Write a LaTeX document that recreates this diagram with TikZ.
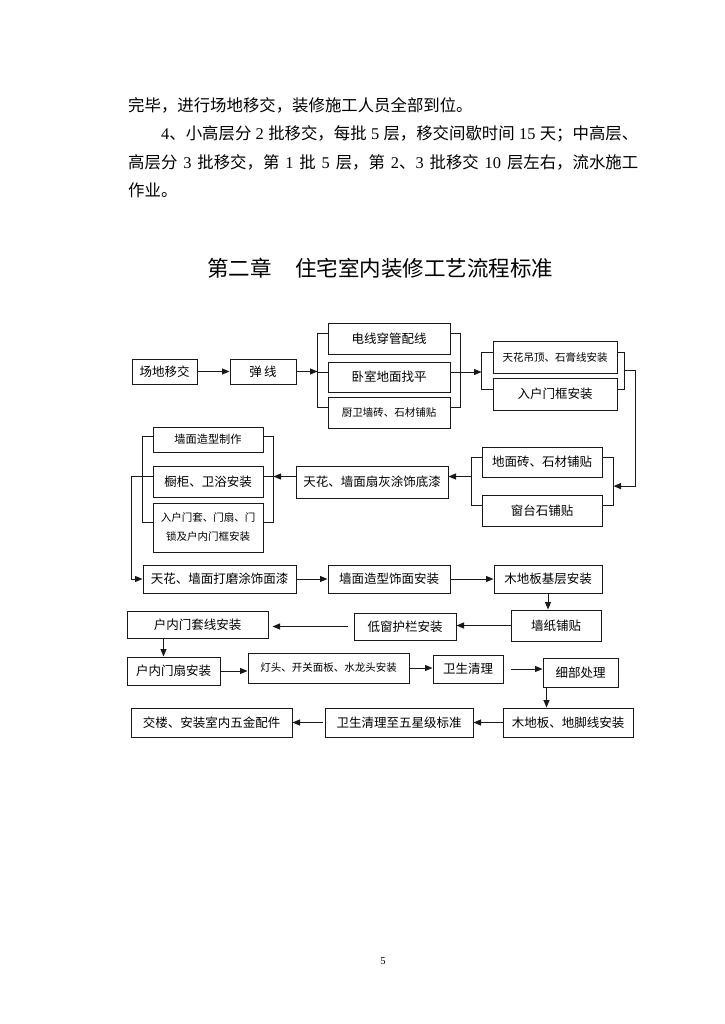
\documentclass[tikz,border=0pt]{standalone}
\usepackage{fontspec}
\setmainfont{Liberation Serif}
\newfontfamily\cjk{Noto Sans CJK SC}
\usetikzlibrary{arrows.meta, calc}
\definecolor{linegray}{RGB}{25,25,25}
\XeTeXlinebreaklocale "zh"
\XeTeXlinebreakskip=0pt plus 1pt
\newcommand{\dg}[1]{{\rmfamily #1}}
\begin{document}
\begin{tikzpicture}[x=1pt, y=-1pt,
    proc/.style={draw=linegray, line width=1pt, inner sep=0pt,
                 font=\cjk\fontsize{12.5}{15}\selectfont},
    procs/.style={proc, font=\cjk\fontsize{10.5}{19}\selectfont},
    arr/.style={draw=linegray, line width=1pt,
                -{Triangle[length=7.5pt,width=6pt]}},
    brk/.style={draw=linegray, line width=1pt},
    para/.style={anchor=west, inner sep=0pt,
                 font=\cjk\fontsize{16.4}{20}\selectfont}]
    % page
    \fill[white] (0,0) rectangle (724,1024);
    \useasboundingbox (0,0) rectangle (724,1024);
    % body text
    \node[para] (p1) at (128,105) {完毕，进行场地移交，装修施工人员全部到位。};
    \node[para] (p2) at (161,134) {\makebox[477pt][s]{\dg{4}、小高层分 \dg{2} 批移交，每批 \dg{5} 层，移交间歇时间 \dg{15} 天；中高层、}};
    \node[para] (p3) at (128,162) {\makebox[510pt][s]{高层分 \dg{3} 批移交，第 \dg{1} 批 \dg{5} 层，第 \dg{2}、\dg{3} 批移交 \dg{10} 层左右，流水施工}};
    \node[para] (p4) at (128,190) {作业。};
    % chapter title
    \node[anchor=west, inner sep=0pt, font=\cjk\fontsize{21.5}{24}\selectfont] (ttl)
        at (207,268) {第二章\hspace{1.1em}住宅室内装修工艺流程标准};
    % row 1
    \node[proc, minimum width=65pt, minimum height=25pt] (cdyj) at (164.5,371.5) {场地移交};
    \node[proc, minimum width=66pt, minimum height=25pt] (tx) at (263,371.5) {弹\,线};
    \node[proc, minimum width=122pt, minimum height=31pt] (dxcg) at (389,338.5) {电线穿管配线};
    \node[proc, minimum width=122pt, minimum height=30pt] (wsdm) at (389,377) {卧室地面找平};
    \node[procs, minimum width=122pt, minimum height=31pt] (cwqz) at (389,412.5) {厨卫墙砖、石材铺贴};
    \node[procs, minimum width=124pt, minimum height=32pt] (thdd) at (555,357) {天花吊顶、石膏线安装};
    \node[proc, minimum width=124pt, minimum height=32pt] (rhmk) at (555,394) {入户门框安装};
    % row 2
    \node[proc, minimum width=120pt, minimum height=30pt] (dmz) at (542,462) {地面砖、石材铺贴};
    \node[proc, minimum width=120pt, minimum height=31pt] (ctsp) at (542,510.5) {窗台石铺贴};
    \node[proc, minimum width=152pt, minimum height=32pt] (thgh) at (372,482) {天花、墙面扇灰涂饰底漆};
    \node[procs, font=\cjk\fontsize{11.2}{14}\selectfont, minimum width=110pt, minimum height=25pt] (qmzx) at (208,439.5) {墙面造型制作};
    \node[proc, minimum width=110pt, minimum height=31pt] (cgwy) at (208,481.5) {橱柜、卫浴安装};
    \node[procs, align=center, minimum width=110pt, minimum height=49pt] (rhmt) at (208,527.5) {入户门套、门扇、门\\锁及户内门框安装};
    % row 3
    \node[proc, minimum width=153pt, minimum height=28pt] (thdm) at (219.5,579) {天花、墙面打磨涂饰面漆};
    \node[proc, minimum width=122pt, minimum height=28pt] (qmzs) at (389,579) {墙面造型饰面安装};
    \node[proc, minimum width=108pt, minimum height=28pt] (mdbj) at (548,579) {木地板基层安装};
    \node[proc, minimum width=90pt, minimum height=31pt] (qzpt) at (556,625.5) {墙纸铺贴};
    \node[proc, minimum width=102pt, minimum height=27pt] (dchl) at (405,626.5) {低窗护栏安装};
    \node[proc, minimum width=141pt, minimum height=27pt] (hnmt) at (197.5,624.5) {户内门套线安装};
    % row 4
    \node[proc, minimum width=93pt, minimum height=28pt] (hnms) at (173.5,671) {户内门扇安装};
    \node[procs, minimum width=161pt, minimum height=30pt] (dtkg) at (328.5,668) {灯头、开关面板、水龙头安装};
    \node[proc, minimum width=70pt, minimum height=28pt] (wsql) at (468,669) {卫生清理};
    \node[proc, minimum width=75pt, minimum height=29pt] (xbcl) at (580.5,672.5) {细部处理};
    \node[proc, minimum width=130pt, minimum height=29pt] (mdbd) at (568,722.5) {木地板、地脚线安装};
    \node[proc, minimum width=148pt, minimum height=29pt] (wsqb) at (399,722.5) {卫生清理至五星级标准};
    \node[proc, minimum width=161pt, minimum height=29pt] (jl) at (211.5,722.5) {交楼、安装室内五金配件};
    % page number
    \node[font=\fontsize{10.5}{12}\selectfont] (pg) at (383,961) {5};

    % group brackets
    \draw[brk] ([yshift=5pt]dxcg.west) -- ++(-10,0) |- ([yshift=5pt]cwqz.west);
    \draw[brk] ([yshift=5pt]wsdm.west) -- ++(-10,0);
    \draw[brk] ([yshift=5pt]dxcg.east) -- ++(10,0) |- ([yshift=5pt]cwqz.east);
    \draw[brk] ([yshift=5pt]wsdm.east) -- ++(10,0);
    \draw[brk] ([yshift=5pt]thdd.west) -- ++(-11,0) |- ([yshift=5pt]rhmk.west);
    \draw[brk] ([yshift=5pt]thdd.east) -- ++(7,0) |- ([yshift=5pt]rhmk.east);
    \draw[brk] ([yshift=5pt]dmz.west) -- ++(-10,0) |- ([yshift=5pt]ctsp.west);
    \draw[brk] ([yshift=5pt]dmz.east) -- ++(11,0) |- ([yshift=5pt]ctsp.east);
    \draw[brk] ([yshift=3pt]qmzx.east) -- ++(10,0) |- ([yshift=5pt]rhmt.east);
    \draw[brk] ([yshift=5pt]cgwy.east) -- ++(10,0);
    \draw[brk] ([yshift=3pt]qmzx.west) -- ++(-10,0) |- ([yshift=5pt]rhmt.west);
    \coordinate (g1l) at ([xshift=-10pt,yshift=5pt]wsdm.west);
    \coordinate (g1r) at ([xshift=10pt,yshift=5pt]wsdm.east);
    \coordinate (g2l) at ([xshift=-11pt]thdd.west);
    \coordinate (g2r) at ($([xshift=7pt,yshift=5pt]thdd.east)!0.5!([xshift=7pt,yshift=5pt]rhmk.east)$);
    \coordinate (g3r) at ($([xshift=11pt,yshift=5pt]dmz.east)!0.6!([xshift=11pt,yshift=5pt]ctsp.east)$);
    \coordinate (g3l) at ([xshift=-10pt]dmz.west);
    \coordinate (g4r) at ([xshift=10pt]cgwy.east);
    \coordinate (r3) at ([yshift=5pt]cgwy.west);
    % flow
    \draw[arr] (cdyj) -- (tx);
    \draw[arr] (tx.east) -- (tx.east -| g1l);
    \draw[arr] (g1r) -- (g1r -| g2l);
    \draw[arr] (g2r) -- ++(11,0) |- (g3r);
    \draw[arr] (r3 -| g3l) -- (r3 -| thgh.east);
    \draw[arr] (r3 -| thgh.west) -- (r3 -| g4r);
    \draw[arr] (r3) -- ++(-21,0) |- (thdm.west);
    \draw[arr] (thdm) -- (qmzs);
    \draw[arr] (qmzs) -- (mdbj);
    \draw[arr] (mdbj.south) -- (mdbj.south |- qzpt.north);
    \draw[arr] (qzpt.west) -- (qzpt.west -| dchl.east);
    \draw[arr, shorten <=6pt, shorten >=4pt] (dchl.west) -- (dchl.west -| hnmt.east);
    \coordinate (d1) at ([xshift=37pt]hnmt.south west);
    \draw[arr] (d1) -- (d1 |- hnms.north);
    \draw[arr] (hnms.east) -- (hnms.east -| dtkg.west);
    \draw[arr] (dtkg.east) -- (dtkg.east -| wsql.west);
    \draw[arr, shorten <=7pt] (wsql.east) -- (wsql.east -| xbcl.west);
    \coordinate (d2) at ([xshift=4pt]xbcl.south west);
    \draw[arr] (d2) -- (d2 |- mdbd.north);
    \draw[arr] (mdbd) -- (wsqb);
    \draw[arr, shorten <=2pt] (wsqb) -- (jl);
\end{tikzpicture}
\end{document}
